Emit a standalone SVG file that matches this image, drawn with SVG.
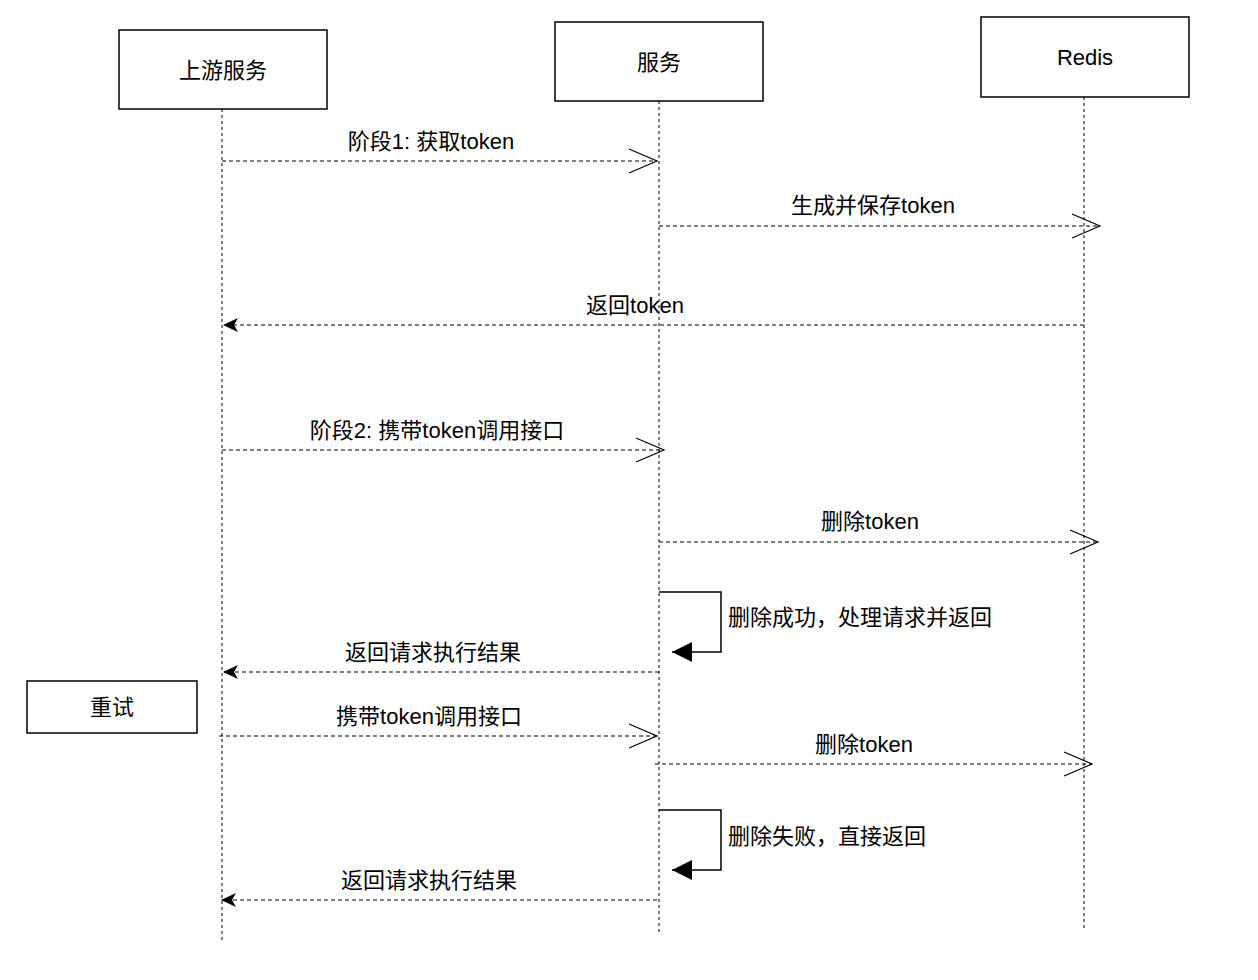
<svg xmlns="http://www.w3.org/2000/svg" width="1258" height="980" viewBox="0 0 1258 980">
<style>
text{font-family:"Liberation Sans","Noto Sans CJK SC",sans-serif;font-size:22px;fill:#000;text-anchor:middle}
.box{fill:#fff;stroke:#000;stroke-width:1.5}
.life{stroke:#000;stroke-dasharray:3 3;fill:none}
.msg{stroke:#000;stroke-dasharray:4 3;fill:none;stroke-width:1.2}
.open{fill:none;stroke:#000;stroke-width:1.2}
.self{fill:none;stroke:#000;stroke-width:1.5}
</style>
<defs>
<marker id="fill" markerWidth="16" markerHeight="14" refX="14" refY="7" orient="auto" markerUnits="userSpaceOnUse"><path d="M0,0 L15,7 L0,14 L4,7 Z" fill="#000"/></marker>
<marker id="fill2" markerWidth="22" markerHeight="20" refX="20" refY="10" orient="auto" markerUnits="userSpaceOnUse"><path d="M0,0 L20,10 L0,20 Z" fill="#000"/></marker>
</defs>
<g id="lifelines">
<line class="life" x1="222" y1="109" x2="222" y2="940"/>
<line class="life" x1="659" y1="101" x2="659" y2="935"/>
<line class="life" x1="1084" y1="97" x2="1084" y2="930"/>
</g>
<g id="n1"><rect class="box" x="119" y="30" width="208" height="79"/><text x="223" y="78">上游服务</text></g>
<g id="n2"><rect class="box" x="555" y="22" width="208" height="79"/><text x="659" y="70">服务</text></g>
<g id="n3"><rect class="box" x="981" y="17" width="208" height="80"/><text x="1085" y="65">Redis</text></g>
<g id="n4"><rect class="box" x="27" y="681" width="170" height="52"/><text x="112" y="715">重试</text></g>
<g id="connectors">
<line class="msg" x1="222" y1="161" x2="657" y2="161"/><path class="open" d="M629,149 L657,161 L629,173"/>
<text x="431" y="149">阶段1: 获取token</text>
<line class="msg" x1="659" y1="226" x2="1100" y2="226"/><path class="open" d="M1072,214 L1100,226 L1072,238"/>
<text x="873" y="213">生成并保存token</text>
<line class="msg" x1="1084" y1="325" x2="224" y2="325" marker-end="url(#fill)"/>
<text x="635" y="313">返回token</text>
<line class="msg" x1="222" y1="450" x2="664" y2="450"/><path class="open" d="M636,438 L664,450 L636,462"/>
<text x="437" y="438">阶段2: 携带token调用接口</text>
<line class="msg" x1="659" y1="542" x2="1098" y2="542"/><path class="open" d="M1070,530 L1098,542 L1070,554"/>
<text x="870" y="529">删除token</text>
<path class="self" d="M659,592 H721 V652 H672" marker-end="url(#fill2)"/>
<text x="728" y="625" style="text-anchor:start">删除成功，处理请求并返回</text>
<line class="msg" x1="659" y1="672" x2="224" y2="672" marker-end="url(#fill)"/>
<text x="433" y="660">返回请求执行结果</text>
<line class="msg" x1="219" y1="736" x2="657" y2="736"/><path class="open" d="M629,724 L657,736 L629,748"/>
<text x="429" y="724">携带token调用接口</text>
<line class="msg" x1="655" y1="764" x2="1092" y2="764"/><path class="open" d="M1064,752 L1092,764 L1064,776"/>
<text x="864" y="752">删除token</text>
<path class="self" d="M659,810 H721 V870 H672" marker-end="url(#fill2)"/>
<text x="728" y="844" style="text-anchor:start">删除失败，直接返回</text>
<line class="msg" x1="657" y1="900" x2="222" y2="900" marker-end="url(#fill)"/>
<text x="429" y="888">返回请求执行结果</text>
</g>
</svg>
